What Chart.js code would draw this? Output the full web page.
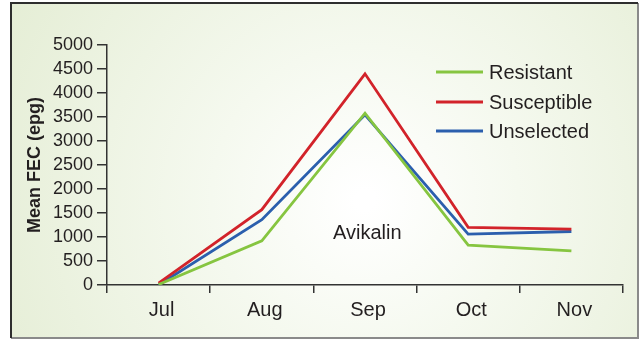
<!DOCTYPE html>
<html>
<head>
<meta charset="utf-8">
<script src="https://cdn.jsdelivr.net/npm/chart.js@4.4.1/dist/chart.umd.min.js"></script>
<style>
html,body{margin:0;padding:0;background:#fff;}
#wrap{position:relative;width:642px;height:340px;}
</style>
</head>
<body>
<div id="wrap"><canvas id="c" width="642" height="340"></canvas></div>
<script>
const months = ['Jul','Aug','Sep','Oct','Nov'];
const resistant = [10, 920, 3580, 830, 710];
const susceptible = [40, 1570, 4400, 1200, 1165];
const unselected = [0, 1360, 3545, 1060, 1115];
const yTicks = [0, 500, 1000, 1500, 2000, 2500, 3000, 3500, 4000, 4500, 5000];
const seriesNames = ['Resistant','Susceptible','Unselected'];
const seriesColors = ['#86c540','#d2232a','#2b5fad'];
const annotationText = 'Avikalin';

const FONT = "'Liberation Sans', Arial, sans-serif";

const framePlugin = {
  id: 'frame',
  beforeDraw(chart) {
    const ctx = chart.ctx;
    ctx.save();
    const g = ctx.createRadialGradient(365, 200, 10, 365, 200, 420);
    g.addColorStop(0, '#ffffff');
    g.addColorStop(0.35, '#f5f9ef');
    g.addColorStop(1, '#e4edd4');
    ctx.fillStyle = g;
    ctx.fillRect(11, 3, 627, 335);
    ctx.lineWidth = 2;
    ctx.strokeStyle = '#8a8a8a';
    ctx.beginPath();
    ctx.moveTo(638, 3); ctx.lineTo(638, 338); ctx.lineTo(11, 338);
    ctx.stroke();
    ctx.strokeStyle = '#2e2e2e';
    ctx.beginPath();
    ctx.moveTo(11, 338); ctx.lineTo(11, 3); ctx.lineTo(638, 3);
    ctx.stroke();
    ctx.restore();
  },
  afterDraw(chart) {
    const ctx = chart.ctx;
    ctx.save();
    const x0 = 436, x1 = 483, ys = [72, 102, 131];
    chart.data.datasets.forEach((ds, i) => {
      ctx.strokeStyle = ds.borderColor;
      ctx.lineWidth = 3;
      ctx.beginPath();
      ctx.moveTo(x0, ys[i]); ctx.lineTo(x1, ys[i]);
      ctx.stroke();
      ctx.fillStyle = '#231f20';
      ctx.font = '20px ' + FONT;
      ctx.textBaseline = 'middle';
      ctx.textAlign = 'left';
      ctx.fillText(ds.label, 489, ys[i] + 1);
    });
    ctx.fillStyle = '#231f20';
    ctx.font = '20px ' + FONT;
    ctx.textBaseline = 'alphabetic';
    ctx.textAlign = 'left';
    ctx.fillText(annotationText, 333, 239);
    ctx.restore();
  }
};

const datasets = [resistant, susceptible, unselected].map((d, i) => ({
  label: seriesNames[i],
  data: d,
  borderColor: seriesColors[i],
  backgroundColor: seriesColors[i],
  borderWidth: 2.8,
  pointRadius: 0,
  tension: 0,
  fill: false
}));

new Chart(document.getElementById('c'), {
  type: 'line',
  data: { labels: months, datasets },
  options: {
    responsive: false,
    animation: false,
    devicePixelRatio: 1,
    layout: { padding: { left: 0, top: 45, right: 19, bottom: 0 } },
    plugins: { legend: { display: false }, tooltip: { enabled: false } },
    scales: {
      x: {
        type: 'category',
        offset: true,
        grid: { offset: true, drawOnChartArea: false, drawTicks: true, tickLength: 8, color: '#333', lineWidth: 1.5 },
        border: { display: true, color: '#333', width: 1.5 },
        ticks: { color: '#231f20', font: { family: FONT, size: 20 }, padding: 5, labelOffset: 3 },
        afterFit(s) { s.height = 55; }
      },
      y: {
        min: 0, max: 5000,
        afterBuildTicks(s) { s.ticks = yTicks.map(v => ({ value: v })); },
        grid: { drawOnChartArea: false, drawTicks: true, tickLength: 10, color: '#333', lineWidth: 1.5 },
        border: { display: true, color: '#333', width: 1.5 },
        ticks: { color: '#231f20', font: { family: FONT, size: 18, lineHeight: 1 }, padding: 4, autoSkip: false, callback: v => String(v) },
        title: { display: true, text: 'Mean FEC (epg)', color: '#231f20', font: { family: FONT, size: 18, weight: 'bold' }, padding: { top: 24, bottom: 0 } },
        afterFit(s) { s.width = 107; }
      }
    }
  },
  plugins: [framePlugin]
});
</script>
</body>
</html>
